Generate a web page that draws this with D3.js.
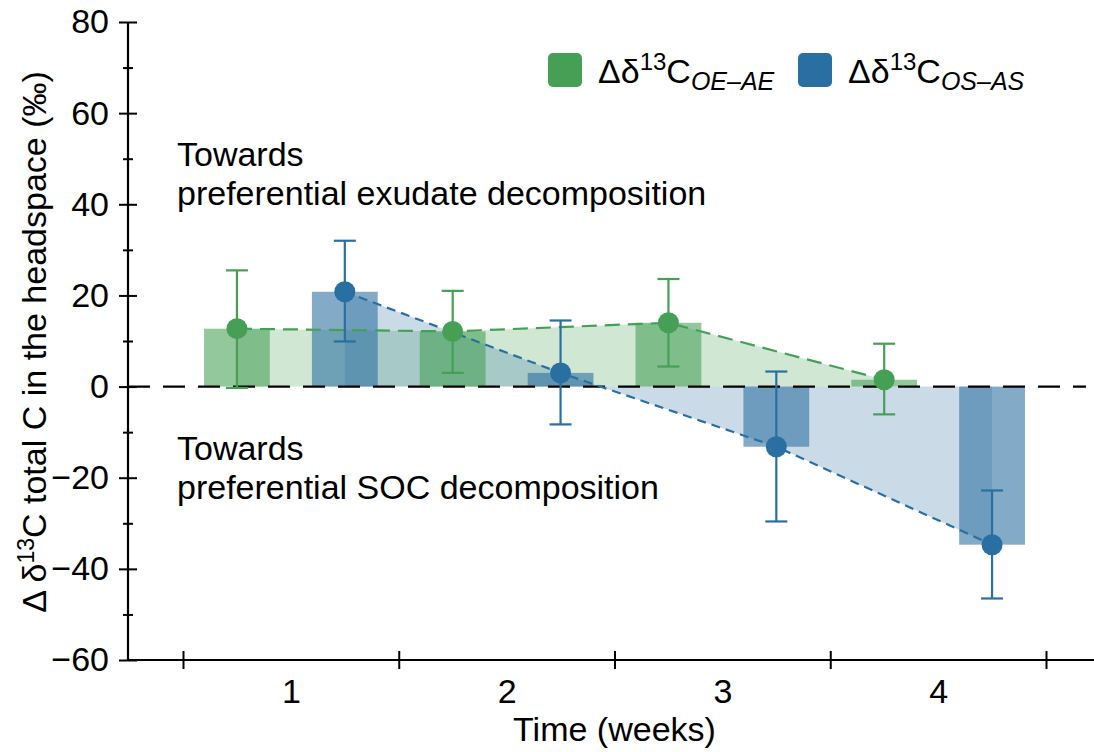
<!DOCTYPE html>
<html>
<head>
<meta charset="utf-8">
<script src="https://cdn.jsdelivr.net/npm/d3@7.8.5/dist/d3.min.js"></script>
<style>
  body { margin: 0; background: #fff; }
  svg { font-family: "Liberation Sans", Arial, sans-serif; }
</style>
</head>
<body>
<div id="chart"></div>
<script>
// Values
const weeks = [1, 2, 3, 4];
const oeMean = [12.7, 12.1, 14.0, 1.5];
const oeHigh = [25.5, 21.0, 23.6, 9.4];
const oeLow = [-0.3, 3.0, 4.4, -6.1];
const osMean = [20.8, 3.0, -13.2, -34.7];
const osHigh = [32.0, 14.5, 3.3, -22.8];
const osLow = [9.9, -8.3, -29.6, -46.5];
const yTicks = [-60, -40, -20, 0, 20, 40, 60, 80];
const yMinor = [-50, -30, -10, 10, 30, 50, 70];
const weekEdges = [0.5, 1.5, 2.5, 3.5, 4.5];

const green = '#45a055';
const blue = '#2a6fa1';
const width = 1094, height = 752;
const fontSize = 34;
const fontFamily = '"Liberation Sans", Arial, sans-serif';

const svg = d3.select('#chart').append('svg')
    .attr('width', width)
    .attr('height', height);

const x = d3.scaleLinear().domain([0.5, 4.5]).range([183, 1046]);
const y = d3.scaleLinear().domain([-60, 80]).range([660, 22]);

const offset = 0.25, barW = 0.305;

const series = [
    { key: 'oe', mean: oeMean, high: oeHigh, low: oeLow, color: green, shift: -offset, dash: '15,8' },
    { key: 'os', mean: osMean, high: osHigh, low: osLow, color: blue, shift: offset, dash: '9,6' }
];

// shaded areas between dashed line and zero
const area = d3.area()
    .x(d => x(d.w))
    .y0(y(0))
    .y1(d => y(d.v));

series.forEach(s => {
    const pts = weeks.map((w, i) => ({ w: w + s.shift, v: s.mean[i] }));
    svg.append('path')
        .datum(pts)
        .attr('d', area)
        .attr('fill', s.color)
        .attr('fill-opacity', 0.25);
});

// bars
series.forEach(s => {
    svg.selectAll(`.bar-${s.key}`)
        .data(weeks)
        .enter()
        .append('rect')
        .attr('class', `bar-${s.key}`)
        .attr('x', (w) => x(w + s.shift - barW / 2))
        .attr('width', x(barW) - x(0))
        .attr('y', (w, i) => y(Math.max(0, s.mean[i])))
        .attr('height', (w, i) => Math.abs(y(s.mean[i]) - y(0)))
        .attr('fill', s.color)
        .attr('fill-opacity', 0.58);
});

// zero line
svg.append('line')
    .attr('x1', 128)
    .attr('x2', 1086)
    .attr('y1', y(0))
    .attr('y2', y(0))
    .attr('stroke', '#000')
    .attr('stroke-width', 2.2)
    .attr('stroke-dasharray', '22,13');

// dashed connecting lines
const line = d3.line().x(d => x(d.w)).y(d => y(d.v));
series.forEach(s => {
    const pts = weeks.map((w, i) => ({ w: w + s.shift, v: s.mean[i] }));
    svg.append('path')
        .datum(pts)
        .attr('d', line)
        .attr('fill', 'none')
        .attr('stroke', s.color)
        .attr('stroke-width', 2.2)
        .attr('stroke-dasharray', s.dash);
});

// error bars and points
const capW = 11;
series.forEach(s => {
    const g = svg.append('g');
    weeks.forEach((w, i) => {
        const cx = x(w + s.shift);
        g.append('line')
            .attr('x1', cx).attr('x2', cx)
            .attr('y1', y(s.high[i])).attr('y2', y(s.low[i]))
            .attr('stroke', s.color).attr('stroke-width', 2.2);
        [s.high[i], s.low[i]].forEach(v => {
            g.append('line')
                .attr('x1', cx - capW).attr('x2', cx + capW)
                .attr('y1', y(v)).attr('y2', y(v))
                .attr('stroke', s.color).attr('stroke-width', 2.2);
        });
        g.append('circle')
            .attr('cx', cx)
            .attr('cy', y(s.mean[i]))
            .attr('r', 10.5)
            .attr('fill', s.color);
    });
});

// y axis
const yAxis = svg.append('g')
    .attr('transform', 'translate(128,0)')
    .call(d3.axisLeft(y).tickValues(yTicks).tickSize(9).tickPadding(10).tickFormat(d => d < 0 ? '\u2212' + Math.abs(d) : d));
yAxis.selectAll('.tick line').attr('x1', -9).attr('x2', 9).attr('stroke-width', 2);
yAxis.selectAll('.tick text').attr('font-size', fontSize).attr('fill', '#000').attr('font-family', fontFamily);
yAxis.select('.domain').remove();

const yMinorAxis = svg.append('g')
    .attr('transform', 'translate(128,0)')
    .call(d3.axisLeft(y).tickValues(yMinor).tickSize(5).tickFormat(''));
yMinorAxis.selectAll('.tick line').attr('x1', -5).attr('x2', 5).attr('stroke-width', 2);
yMinorAxis.select('.domain').remove();

svg.append('line')
    .attr('x1', 128).attr('x2', 128)
    .attr('y1', y(80)).attr('y2', y(-60) + 1)
    .attr('stroke', '#000').attr('stroke-width', 2.2);

// x axis
const xAxis = svg.append('g')
    .attr('transform', `translate(0,${y(-60)})`)
    .call(d3.axisBottom(x).tickValues(weekEdges).tickSize(9).tickFormat(''));
xAxis.selectAll('.tick line').attr('y1', -9).attr('y2', 9).attr('stroke-width', 2);
xAxis.select('.domain').remove();

const xLabels = svg.append('g')
    .attr('transform', `translate(0,${y(-60)})`)
    .call(d3.axisBottom(x).tickValues(weeks).tickSize(0).tickPadding(19).tickFormat(d3.format('d')));
xLabels.selectAll('.tick text').attr('font-size', fontSize).attr('fill', '#000').attr('font-family', fontFamily);
xLabels.select('.domain').remove();

svg.append('line')
    .attr('x1', 127).attr('x2', width)
    .attr('y1', y(-60)).attr('y2', y(-60))
    .attr('stroke', '#000').attr('stroke-width', 2.2);

// axis titles
svg.append('text')
    .attr('x', x(2.5))
    .attr('y', 741)
    .attr('text-anchor', 'middle')
    .attr('font-size', fontSize)
    .text('Time (weeks)');

const yTitle = svg.append('text')
    .attr('transform', `translate(46,342) rotate(-90)`)
    .attr('text-anchor', 'middle')
    .attr('font-size', 34);
yTitle.append('tspan').text('\u0394 \u03b4');
yTitle.append('tspan').attr('font-size', 23).attr('dy', -12).text('13');
yTitle.append('tspan').attr('dy', 12).text('C total C in the headspace (\u2030)');

// annotations
const notes = [
    { lines: ['Towards', 'preferential exudate decomposition'], y: 166 },
    { lines: ['Towards', 'preferential SOC decomposition'], y: 460 }
];
notes.forEach(n => {
    n.lines.forEach((t, i) => {
        svg.append('text')
            .attr('x', 177)
            .attr('y', n.y + i * 39)
            .attr('font-size', fontSize)
            .text(t);
    });
});

// legend
const legendItems = [
    { color: green, sub: 'OE\u2013AE', x: 548 },
    { color: blue, sub: 'OS\u2013AS', x: 798 }
];
legendItems.forEach(d => {
    const g = svg.append('g').attr('transform', `translate(${d.x},53)`);
    g.append('rect')
        .attr('width', 34).attr('height', 34)
        .attr('rx', 5)
        .attr('fill', d.color);
    const t = g.append('text')
        .attr('x', 50)
        .attr('y', 30)
        .attr('font-size', 34);
    t.append('tspan').text('\u0394\u03b4');
    t.append('tspan').attr('font-size', 24).attr('dy', -13).text('13');
    t.append('tspan').attr('dy', 13).text('C');
    t.append('tspan').attr('font-size', 25).attr('font-style', 'italic').attr('dy', 7).text(d.sub);
});
</script>
</body>
</html>
